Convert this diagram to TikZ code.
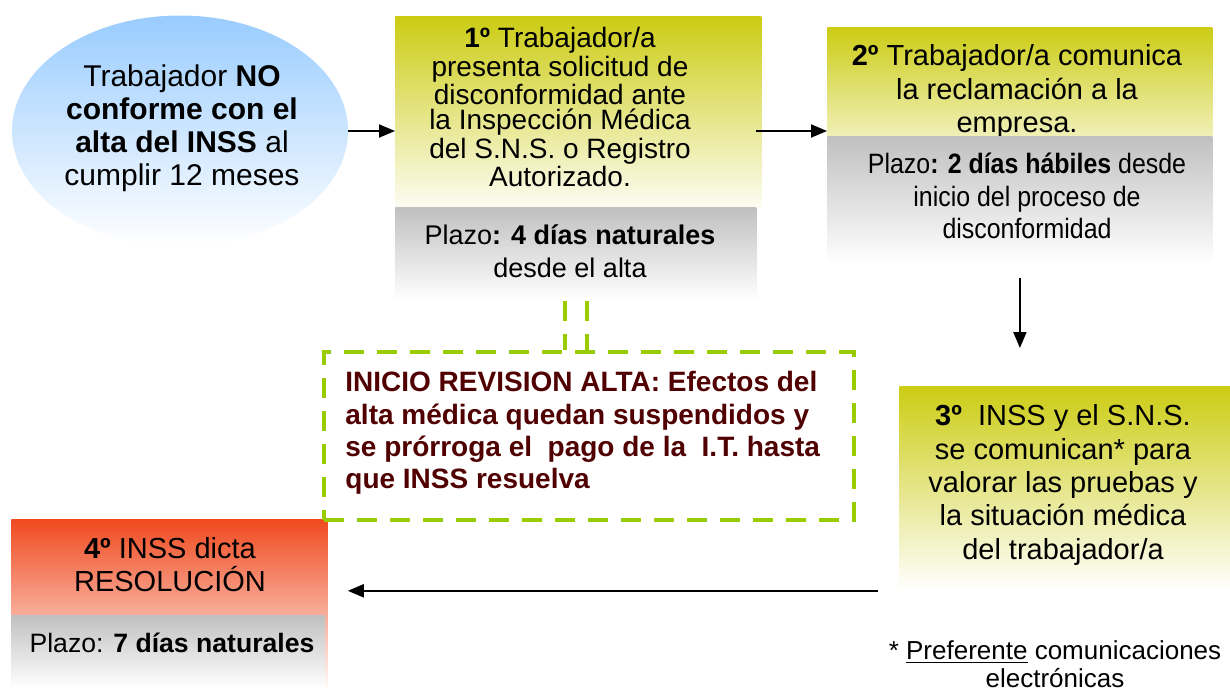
\documentclass[tikz,border=0pt]{standalone}
\usepackage{fontspec}
\setmainfont{Liberation Sans}
\newfontfamily\narrowsf[FakeStretch=0.89]{Liberation Sans}
\usetikzlibrary{shapes.geometric,arrows.meta}

\definecolor{skyblue}{RGB}{153,204,255}
\definecolor{stepgreen}{RGB}{204,204,20}
\definecolor{plazogray}{RGB}{192,192,192}
\definecolor{stepred}{RGB}{240,74,32}
\definecolor{dashgreen}{RGB}{153,204,0}
\definecolor{revtext}{RGB}{80,0,0}

\tikzset{
  stepbox/.style={rectangle, inner sep=0pt, anchor=north west, top color=stepgreen, bottom color=white},
  plazobox/.style={rectangle, inner sep=0pt, anchor=north west, top color=plazogray, bottom color=white},
  txt/.style={align=center, inner sep=0pt, font=\fontsize{14}{16.5}\selectfont},
  flow/.style={line width=1pt, -{Triangle[length=8pt,width=6.5pt]}},
  revline/.style={draw=dashgreen, line width=2pt, dash pattern=on 10pt off 6.5pt}
}

\begin{document}
\begin{tikzpicture}[x=0.5pt, y=-0.5pt]
  \useasboundingbox (0,0) rectangle (1230,693);

  % worker not agreeing
  \node[ellipse, inner sep=0pt, minimum width=168pt, minimum height=115.5pt, top color=skyblue, bottom color=white] (worker) at (180,131) {};
  \node[txt, font=\fontsize{15}{16.5}\selectfont] (workertxt) at (182,128) {Trabajador \textbf{NO}\\\textbf{conforme con el}\\\textbf{alta del INSS} al\\cumplir 12 meses};

  % step 1
  \node[stepbox, bottom color=stepgreen!5!white, minimum width=183pt, minimum height=95.5pt] (step1) at (395,16) {};
  \node[txt, font=\fontsize{14}{12.9}\selectfont] (step1txt) at (560,107) {\textbf{1º} Trabajador/a\\presenta solicitud de\\disconformidad ante\\la Inspección Médica\\del S.N.S. o Registro\\Autorizado.};
  \node[plazobox, minimum width=180.5pt, minimum height=46.5pt] (plazo1) at (395,207) {};
  \node[txt, font=\fontsize{13.5}{16.5}\selectfont] (plazo1txt) at (570,251.5) {Plazo\textbf{: 4 días naturales}\\desde el alta};

  % step 2
  \node[stepbox, bottom color=stepgreen!30!white, minimum width=192.5pt, minimum height=54.5pt] (step2) at (827,27) {};
  \node[txt, font=\fontsize{14.5}{16.7}\selectfont] (step2txt) at (1017,91.5) {\textbf{2º} Trabajador/a comunica\\la reclamación a la\\empresa.};
  \node[plazobox, minimum width=192.5pt, minimum height=63.5pt] (plazo2) at (827,136) {};
  \node[txt, font=\fontsize{14}{16.3}\selectfont\narrowsf] (plazo2txt) at (1027,196) {Plazo\textbf{: 2 días hábiles} desde\\inicio del proceso de\\disconformidad};

  % step 3
  \node[stepbox, minimum width=165.5pt, minimum height=102pt] (step3) at (899,386) {};
  \node[txt, font=\fontsize{14.5}{16.7}\selectfont] (step3txt) at (1063,485) {\textbf{3º}\ \ INSS y el S.N.S.\\se comunican* para\\valorar las pruebas y\\la situación médica\\del trabajador/a};

  % step 4
  \node[rectangle, inner sep=0pt, anchor=north west, top color=stepred, bottom color=stepred!3!white, minimum width=158pt, minimum height=84pt] (step4) at (11,519) {};
  \node[txt, font=\fontsize{14.5}{16.7}\selectfont] (step4txt) at (170,564.5) {\textbf{4º} INSS dicta\\RESOLUCIÓN};
  \node[plazobox, minimum width=156.5pt, minimum height=36pt] (plazo4) at (11,615) {};
  \node[txt, font=\fontsize{13.3}{16}\selectfont] (plazo4txt) at (172,643) {Plazo: \textbf{7 días naturales}};

  % revision starts
  \node[rectangle, revline, inner sep=0pt, anchor=north west, minimum width=265pt, minimum height=84pt] (rev) at (322,350) {};
  \node[txt, align=left, anchor=west, text=revtext, font=\fontsize{14}{16.2}\selectfont\bfseries] (revtxt) at (345,433) {INICIO REVISION ALTA: Efectos del\\alta médica quedan suspendidos y\\se prórroga el\ \ pago de la\ \ I.T. hasta\\que INSS resuelva};

  % footnote
  \node[txt, font=\fontsize{13}{14}\selectfont] (note) at (1055,664) {* \underline{Preferente} comunicaciones\\electrónicas};

  \draw[flow] (worker.east) -- (worker.east -| step1.west);
  \draw[flow, shorten <=-3pt] (step1.east |- worker.east) -- (step2.west |- worker.east);
  \draw[flow, shorten <=7pt, shorten >=19pt] (plazo2.south) -- (plazo2.south |- step3.north);
  \draw[flow, shorten <=10.5pt, shorten >=10pt] (step3.south west) -- (step3.south west -| step4.east);

  \draw[revline] ([xshift=-5.5pt]plazo1.south) -- ([xshift=-5.5pt]plazo1.south |- rev.north);
  \draw[revline] ([xshift=5.5pt]plazo1.south) -- ([xshift=5.5pt]plazo1.south |- rev.north);
\end{tikzpicture}
\end{document}
